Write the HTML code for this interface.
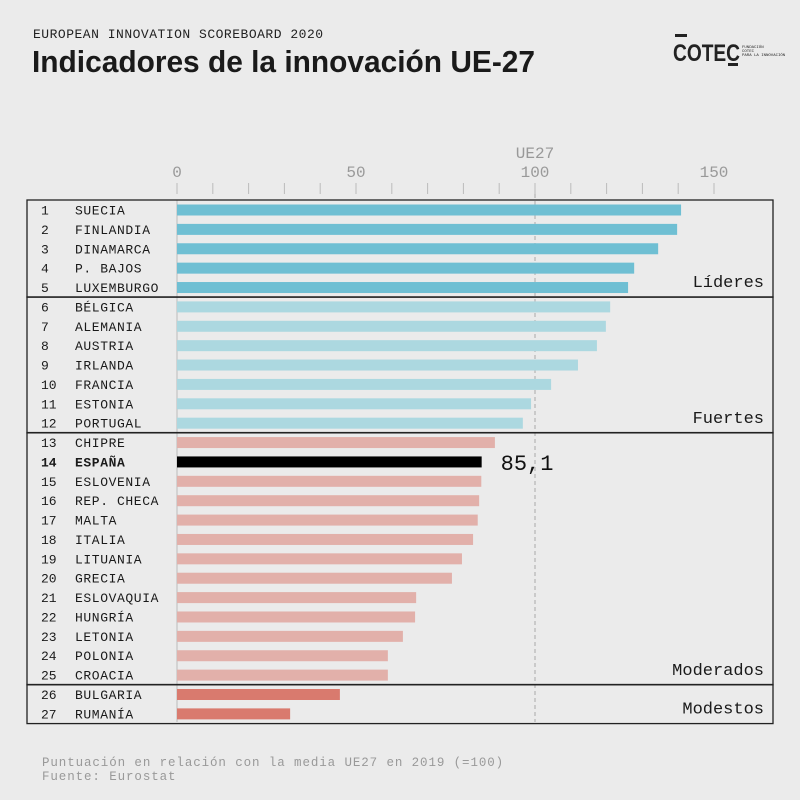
<!DOCTYPE html>
<html><head><meta charset="utf-8"><style>
body{margin:0;background:#ebebeb;}
svg{display:block;font-family:"Liberation Mono",monospace;}
</style></head><body>
<svg id="c" width="800" height="800" viewBox="0 0 800 800">
<rect width="800" height="800" fill="#ebebeb"/>
<text x="33" y="38" font-size="13" fill="#222" letter-spacing="0.5">EUROPEAN INNOVATION SCOREBOARD 2020</text>
<text x="32" y="72" font-family="Liberation Sans, sans-serif" font-weight="bold" font-size="31" fill="#1a1a1a" textLength="503" lengthAdjust="spacingAndGlyphs">Indicadores de la innovación UE-27</text>
<g>
<rect x="675" y="34" width="12" height="3" fill="#222"/>
<text x="673" y="61" font-family="Liberation Sans, sans-serif" font-weight="bold" font-size="24" fill="#222" textLength="67" lengthAdjust="spacingAndGlyphs">COTEC</text>
<rect x="728" y="63" width="10" height="3" fill="#222"/>
<text x="742" y="48" font-size="4" fill="#222">FUNDACIÓN</text>
<text x="742" y="52" font-size="4" fill="#222">COTEC</text>
<text x="742" y="56" font-size="4" fill="#222">PARA LA INNOVACIÓN</text>
</g>
<g id="axis"></g>
<g id="bars"></g>
<text x="42" y="766" font-size="12.5" fill="#999" letter-spacing="0.9">Puntuación en relación con la media UE27 en 2019 (=100)</text>
<text x="42" y="780" font-size="12.5" fill="#999" letter-spacing="0.9">Fuente: Eurostat</text>
</svg>
<script>
const countries=["SUECIA","FINLANDIA","DINAMARCA","P. BAJOS","LUXEMBURGO","BÉLGICA","ALEMANIA","AUSTRIA","IRLANDA","FRANCIA","ESTONIA","PORTUGAL","CHIPRE","ESPAÑA","ESLOVENIA","REP. CHECA","MALTA","ITALIA","LITUANIA","GRECIA","ESLOVAQUIA","HUNGRÍA","LETONIA","POLONIA","CROACIA","BULGARIA","RUMANÍA"];
const values=[140.8,139.7,134.4,127.7,126,121,119.8,117.3,112,104.5,98.9,96.6,88.8,85.1,85,84.4,84,82.7,79.6,76.8,66.8,66.5,63.1,58.9,58.9,45.5,31.6];
const groupNames=["Líderes","Fuertes","Moderados","Modestos"];
const groupEnds=[5,12,25,27];
const tickLabels=[0,50,100,150];
const NS="http://www.w3.org/2000/svg";
const x=v=>177+v*3.58;
const y=i=>210+i*19.38;
function el(tag,attrs,parent){const e=document.createElementNS(NS,tag);for(const k in attrs)e.setAttribute(k,attrs[k]);parent.appendChild(e);return e;}
const ax=document.getElementById('axis'),bg=document.getElementById('bars');
for(let v=0;v<=150;v+=10){
  const t=el('line',{x1:x(v),x2:x(v),y1:183,y2:194,stroke:'#bbb','stroke-width':1},ax);
  
  
}
tickLabels.forEach(v=>{
  const t=el('text',{x:x(v),y:177,'text-anchor':'middle','font-size':16,fill:'#999'},ax);
  t.textContent=v;
  
  
});
const ue=el('text',{x:x(100),y:158,'text-anchor':'middle','font-size':16,fill:'#999'},ax);
ue.textContent='UE27';


const zl=el('line',{x1:x(0),x2:x(0),y1:200,y2:722,stroke:'#bbb','stroke-width':1},ax);


const rl=el('line',{x1:x(100),x2:x(100),y1:194,y2:722,stroke:'#aaa','stroke-width':1,'stroke-dasharray':'4,3'},ax);


const colors=['#6fbfd3','#acd8e0','#e2b0aa','#d97a6e'];
let start=0;
groupEnds.forEach((end,g)=>{
  const top=y(start)-10,bot=y(end-1)+9.7;
  const r=el('rect',{x:27,y:top,width:746,height:bot-top,fill:'none',stroke:'#222','stroke-width':1.3},bg);
  
  
  const lbl=el('text',{x:764,y:bot-10,'text-anchor':'end','font-size':17,fill:'#1a1a1a'},bg);
  lbl.textContent=groupNames[g];
  
  
  for(let i=start;i<end;i++){
    const es=countries[i]==='ESPAÑA';
    const b=el('rect',{x:x(0),y:y(i)-5.5,width:x(values[i])-x(0),height:11,fill:es?'#000':colors[g]},bg);
    
    
    const n=el('text',{x:41,y:y(i)+4.5,'font-size':13,fill:'#1a1a1a','font-weight':es?'bold':'normal'},bg);
    n.textContent=i+1;
    
    
    const c=el('text',{x:75,y:y(i)+4.5,'font-size':13,fill:'#1a1a1a','letter-spacing':'0.6','font-weight':es?'bold':'normal'},bg);
    c.textContent=countries[i];
    
    
    if(es){
      const v=el('text',{x:x(values[i])+19,y:y(i)+8,'font-size':22,fill:'#111'},bg);
      v.textContent=String(values[i]).replace('.',',');
      
      
    }
  }
  start=end;
});
</script>
</body></html>
